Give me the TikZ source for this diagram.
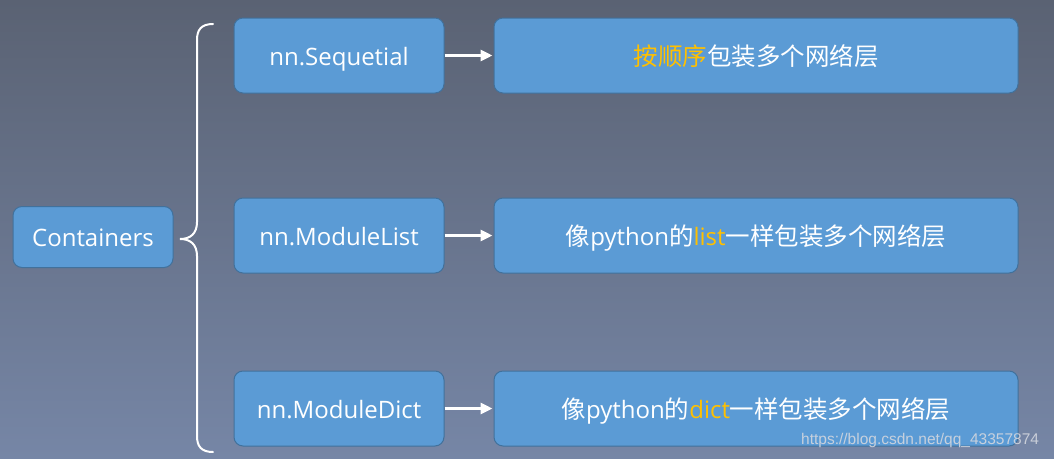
\documentclass[tikz,border=0pt]{standalone}
\usepackage{fontspec}
\setmainfont{Open Sans}
\newfontfamily\cjk{Noto Sans CJK SC}
\newfontfamily\wmfont{Liberation Sans}
\usetikzlibrary{arrows.meta}
\definecolor{bgtop}{HTML}{5A6273}
\definecolor{bgbot}{HTML}{7686A6}
\definecolor{boxfill}{HTML}{5B9BD5}
\definecolor{boxline}{HTML}{41719C}
\definecolor{hl}{HTML}{FFC000}
\definecolor{wmc}{HTML}{D2D6DE}
\tikzset{
  box/.style={draw=boxline, line width=1pt, fill=boxfill, rounded corners=9pt,
    inner sep=0pt, text=white, text height=19pt, text depth=0pt,
    font=\fontsize{24}{28}\selectfont},
  leftbox/.style={box, minimum width=210pt, minimum height=75pt},
  rightbox/.style={box, minimum width=524pt, minimum height=75pt},
  conn/.style={draw=white, line width=3pt, -{Triangle[length=12pt,width=11pt]}, shorten >=1pt},
}
\newcommand{\cj}[1]{{\cjk\fontsize{24.5}{28}\selectfont #1}}
\begin{document}
\begin{tikzpicture}[x=1pt,y=-1pt]
\shade[top color=bgtop, bottom color=bgbot] (0,0) rectangle (1054,458);
\useasboundingbox (0,0) rectangle (1054,458);
\node[box, minimum width=160pt, minimum height=61pt] (cont) at (93,237) {Containers};
\node[leftbox] (seq) at (339,55.5) {nn.Sequetial};
\node[leftbox] (ml) at (339,235.5) {nn.ModuleList};
\node[leftbox] (md) at (339,408.5) {nn.ModuleDict};
\node[rightbox] (r1) at (756,55.5) {\cj{\textcolor{hl}{按顺序}包装多个网络层}};
\node[rightbox] (r2) at (756,235.5) {\cj{像}python\cj{的}\textcolor{hl}{list}\cj{一样包装多个网络层}};
\node[rightbox] (r3) at (756,408.5) {\cj{像}python\cj{的}\textcolor{hl}{dict}\cj{一样包装多个网络层}};
\draw[conn] (seq.east) -- (r1.west);
\draw[conn] (ml.east) -- (r2.west);
\draw[conn] (md.east) -- (r3.west);
\coordinate (tip) at (180,239);
\draw[white, line width=2pt, line cap=round]
  (213,24) .. controls (201,24) and (197,30) .. (197,40)
  -- (197,222) .. controls (197,234) and (190,239) .. (tip)
  .. controls (190,239) and (197,244) .. (197,256)
  -- (197,436) .. controls (197,446) and (201,452) .. (213,452);
\node[text=wmc, font=\wmfont\fontsize{15.5}{18}\selectfont, anchor=base west, inner sep=0pt, opacity=0.9] (wm) at (801,444) {https://blog.csdn.net/qq\_43357874};
\end{tikzpicture}
\end{document}
